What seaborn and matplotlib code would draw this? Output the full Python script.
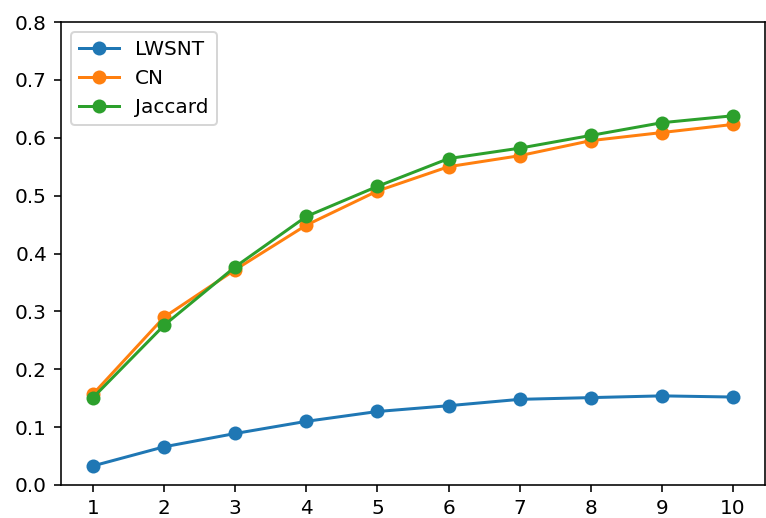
import matplotlib
matplotlib.use("Agg")
import matplotlib.pyplot as plt
import seaborn as sns
import pandas as pd

k = [1, 2, 3, 4, 5, 6, 7, 8, 9, 10]
lwsnt = [0.033, 0.066, 0.089, 0.110, 0.127, 0.137, 0.148, 0.151, 0.154, 0.152]
cn = [0.157, 0.290, 0.372, 0.449, 0.508, 0.550, 0.569, 0.595, 0.609, 0.623]
jaccard = [0.151, 0.276, 0.377, 0.464, 0.516, 0.564, 0.582, 0.604, 0.626, 0.638]

series = {"LWSNT": lwsnt, "CN": cn, "Jaccard": jaccard}
colors = ["#1f77b4", "#ff7f0e", "#2ca02c"]

fig = plt.figure(figsize=(766 / 144, 518 / 144), dpi=144)
ax = fig.add_axes([61 / 766, 33 / 518, 704 / 766, 463 / 518])

for (name, vals), c in zip(series.items(), colors):
    df = pd.DataFrame({"k": k, "v": vals})
    sns.lineplot(data=df, x="k", y="v", ax=ax, label=name, color=c,
                 marker="o", markersize=7, markeredgewidth=0, linewidth=1.5)

ax.set_ylim(0, 0.8)
ax.set_xticks(k)
ax.set_xlabel("")
ax.set_ylabel("")
ax.legend(loc="upper left")

fig.savefig("out.png", dpi=144)
